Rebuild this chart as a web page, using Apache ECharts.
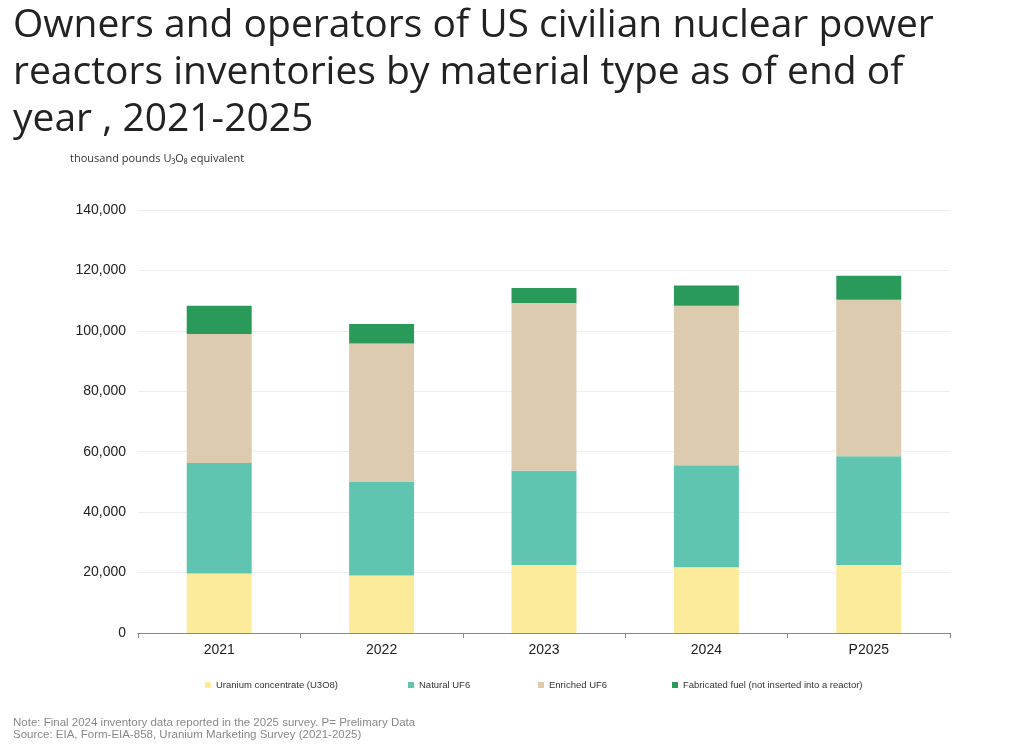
<!DOCTYPE html>
<html><head><meta charset="utf-8">
<script src="https://cdn.jsdelivr.net/npm/echarts@6/dist/echarts.min.js"></script>
<style>html,body{margin:0;padding:0;background:#fff}#c{width:1024px;height:750px}</style>
</head><body><div id="c"></div>
<script>
const categories = ['2021','2022','2023','2024','P2025'];
const uraniumConcentrate = [19700, 19000, 22500, 21800, 22500];
const naturalUF6 = [36600, 31000, 31200, 33700, 36000];
const enrichedUF6 = [42700, 45800, 55500, 52800, 51800];
const fabricatedFuel = [9300, 6500, 5000, 6700, 7900];
const seriesNames = ['Uranium concentrate (U3O8)','Natural UF6','Enriched UF6','Fabricated fuel (not inserted into a reactor)'];
const colors = ['#fdeb9c','#5fc4b0','#dccbae','#2a9a5a'];
const legendLeft = [200, 403, 533, 667];

const chart = echarts.init(document.getElementById('c'));
const datas = [uraniumConcentrate, naturalUF6, enrichedUF6, fabricatedFuel];
chart.setOption({
  animation:false,
  textStyle:{fontFamily:'Liberation Sans, Arial'},
  title:[{
    text:'Owners and operators of US civilian nuclear power\nreactors inventories by material type as of end of\nyear , 2021-2025',
    left:8, top:-3,
    textStyle:{fontFamily:'Open Sans', fontWeight:400, fontSize:39, lineHeight:47, color:'#222'}
  },{
    text:'thousand pounds U₃O₈ equivalent', left:65, top:148,
    textStyle:{fontFamily:'Open Sans', fontWeight:400, fontSize:11, color:'#333'}
  },{
    text:'Note: Final 2024 inventory data reported in the 2025 survey. P= Prelimary Data\nSource: EIA, Form-EIA-858, Uranium Marketing Survey (2021-2025)',
    left:8, top:712,
    textStyle:{fontWeight:400, fontSize:11.5, lineHeight:12, color:'#888'}
  }],
  legend: seriesNames.map((n,i)=>({
    data:[n], left:legendLeft[i], top:675, icon:'rect', itemWidth:6, itemHeight:6, itemGap:2,
    textStyle:{fontSize:9.5, color:'#333'}
  })),
  grid:{left:138, right:74, top:210, bottom:117},
  xAxis:{type:'category', data:categories,
    axisLine:{lineStyle:{color:'#888'}}, axisTick:{show:true, lineStyle:{color:'#888'}},
    axisLabel:{fontSize:14, color:'#222', margin:10}},
  yAxis:{type:'value', min:0, max:140000, interval:20000,
    axisLabel:{fontSize:14, color:'#222', margin:12, formatter:v=>v.toLocaleString('en-US')},
    splitLine:{lineStyle:{color:'#eee'}}, axisLine:{show:false}, axisTick:{show:false}},
  series: seriesNames.map((n,i)=>({
    name:n, type:'bar', stack:'s', data:datas[i], barWidth:'40%',
    itemStyle:{color:colors[i]}
  }))
});
</script></body></html>
